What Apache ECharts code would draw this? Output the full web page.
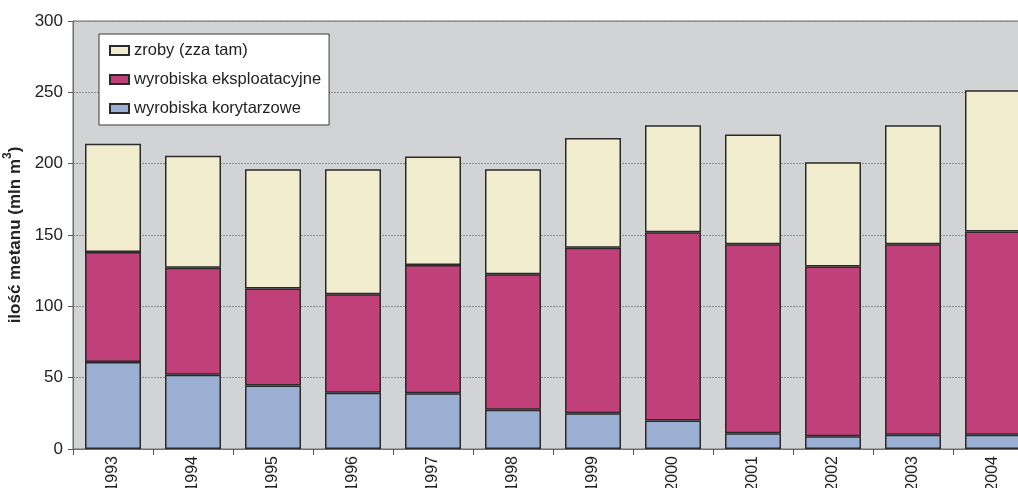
<!DOCTYPE html>
<html>
<head>
<meta charset="utf-8">
<script src="https://cdn.jsdelivr.net/npm/echarts@6/dist/echarts.min.js"></script>
<style>
  html, body { margin: 0; padding: 0; background: #fff; }
  #chart { width: 1018px; height: 488px; }
</style>
</head>
<body>
<div id="chart"></div>
<script>
// Methane emissions by source, million m3
const years = ['1993', '1994', '1995', '1996', '1997', '1998', '1999', '2000', '2001', '2002', '2003', '2004'];
const korytarzowe = [61, 52, 44.5, 39.5, 39, 27.5, 25, 20, 11, 9, 10, 10];
const eksploatacyjne = [77, 75, 68, 69, 90, 95, 116, 132, 132.5, 119, 133.5, 142.5];
const zroby = [76, 78.5, 83.5, 87.5, 76, 73.5, 77, 75, 77, 73, 83.5, 99];
const yTicks = [0, 50, 100, 150, 200, 250, 300];

const FONT = "'Liberation Sans', Arial, sans-serif";

const chart = echarts.init(document.getElementById('chart'), null, { renderer: 'canvas' });

function barSeries(name, data, color) {
  return {
    name: name,
    type: 'bar',
    stack: 'total',
    data: data,
    barWidth: 56,
    itemStyle: { color: color, borderColor: '#2a2a2a', borderWidth: 1.5 },
    emphasis: { disabled: true }
  };
}

chart.setOption({
  animation: false,
  textStyle: { fontFamily: FONT },
  grid: {
    left: 73, top: 21, width: 960, height: 428,
    outerBoundsMode: 'none',
    containLabel: false,
    show: true, backgroundColor: '#d2d3d5', borderColor: '#6e6e6e', borderWidth: 1
  },
  legend: {
    orient: 'vertical',
    left: 99, top: 34,
    padding: [8, 8, 8, 10],
    itemGap: 12,
    itemWidth: 19, itemHeight: 9,
    icon: 'rect',
    backgroundColor: '#ffffff',
    borderColor: '#3a3a3a', borderWidth: 1,
    borderRadius: 0,
    data: ['zroby (zza tam)', 'wyrobiska eksploatacyjne', 'wyrobiska korytarzowe'],
    textStyle: { fontFamily: FONT, fontSize: 16.5, color: '#222' },
    selectedMode: false
  },
  xAxis: {
    type: 'category',
    data: years,
    axisLine: { lineStyle: { color: '#6e6e6e', width: 1 } },
    axisTick: { show: true, length: 6, lineStyle: { color: '#555' } },
    axisLabel: { rotate: 90, fontFamily: FONT, fontSize: 16, color: '#222', margin: 7 }
  },
  yAxis: {
    type: 'value',
    min: yTicks[0], max: yTicks[yTicks.length - 1], interval: 50,
    name: '{t|ilość metanu (mln m}{s|3}{t|)}',
    nameLocation: 'middle',
    nameRotate: 90,
    nameGap: 40,
    nameTextStyle: {
      fontFamily: FONT, fontSize: 17, fontWeight: 'bold', color: '#222',
      rich: {
        t: { fontFamily: FONT, fontSize: 17, fontWeight: 'bold', color: '#222', lineHeight: 22, verticalAlign: 'bottom' },
        s: { fontFamily: FONT, fontSize: 12, fontWeight: 'bold', color: '#222', lineHeight: 22, verticalAlign: 'top' }
      }
    },
    axisLine: { show: true, lineStyle: { color: '#6e6e6e', width: 1 } },
    axisTick: { show: true, length: 5, lineStyle: { color: '#555' } },
    axisLabel: { fontFamily: FONT, fontSize: 17, color: '#222', margin: 10 },
    splitLine: { show: true, lineStyle: { color: '#8a8a8a', type: [2, 1], width: 1 } }
  },
  series: [
    barSeries('wyrobiska korytarzowe', korytarzowe, '#9aafd2'),
    barSeries('wyrobiska eksploatacyjne', eksploatacyjne, '#c0417a'),
    barSeries('zroby (zza tam)', zroby, '#f2edcf')
  ]
});
</script>
</body>
</html>
